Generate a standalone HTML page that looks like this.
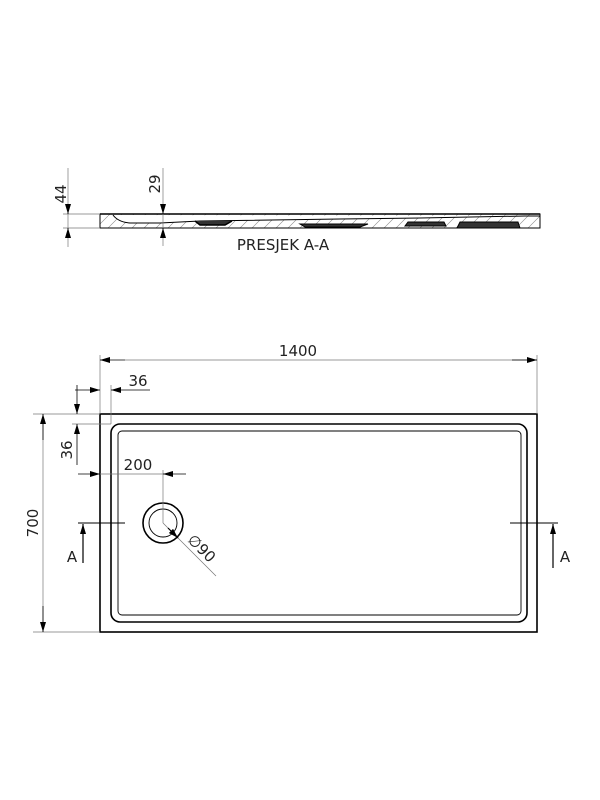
<!DOCTYPE html>
<html><head><meta charset="utf-8"><style>html,body{margin:0;padding:0;background:#fff}svg{display:block}</style></head>
<body>
<svg width="600" height="800" viewBox="0 0 600 800" xmlns="http://www.w3.org/2000/svg" font-family="'DejaVu Sans','Liberation Sans',sans-serif" fill="none">
<defs>
<marker id="ar" viewBox="0 0 10 6" refX="10" refY="3" markerWidth="10" markerHeight="6" orient="auto-start-reverse" markerUnits="userSpaceOnUse"><path d="M0,0 L10,3 L0,6 Z" fill="#000"/></marker>
<pattern id="h" width="12" height="12" patternUnits="userSpaceOnUse"><path d="M0,12 L12,0" stroke="#888" stroke-width="0.6"/></pattern>
</defs>
<g stroke="#000">
<rect x="100" y="214" width="440" height="14" fill="url(#h)" stroke-width="1"/>
<path d="M100,214 L540,214" stroke-width="1.6"/>
<path d="M113,215 Q118,222 130,223 L160,223 L200,221 L340,219 L420,218 L525,216 L540,216" stroke-width="1" fill="#fff"/>
<path d="M195,221 L200,225 L225,225 L232,221" stroke-width="1.5" fill="#333"/>
<path d="M305,227 L360,227 L368,224 L300,224 Z" stroke-width="1" fill="#333"/>
<path d="M405,226 L446,226 L444,222 L408,222 Z" stroke-width="1" fill="#333"/>
<path d="M457,228 L520,228 L518,222 L460,222 Z" stroke-width="1" fill="#333"/>
</g>
<g stroke="#777" stroke-width="0.7">
<path d="M63,214 L100,214 M63,228 L100,228"/>
<path d="M68,168 L68,247"/>
<path d="M163,168 L163,246"/>
</g>
<g stroke="#000" stroke-width="0.8">
<path d="M68,204 L68,214" marker-end="url(#ar)"/>
<path d="M68,238 L68,228" marker-end="url(#ar)"/>
<path d="M163,204 L163,214" marker-end="url(#ar)"/>
<path d="M163,238 L163,228" marker-end="url(#ar)"/>
</g>
<g fill="#222" font-size="15">
<text transform="translate(66,194) rotate(-90)" text-anchor="middle">44</text>
<text transform="translate(160,184) rotate(-90)" text-anchor="middle">29</text>
<text x="283" y="250" text-anchor="middle">PRESJEK A-A</text>
</g>
<g stroke="#000">
<rect x="100" y="414" width="437" height="218" stroke-width="1.6"/>
<rect x="111" y="424" width="416" height="198" rx="9" stroke-width="1.6"/>
<rect x="118" y="431" width="403" height="184" rx="4" stroke-width="0.9"/>
<circle cx="163" cy="523" r="20" stroke-width="1.6"/>
<circle cx="163" cy="523" r="14" stroke-width="0.9"/>
<path d="M78,523 L125,523 M510,523 L558,523" stroke-width="1"/>
</g>
<g stroke="#777" stroke-width="0.7">
<path d="M100,355 L100,414 M537,355 L537,414"/>
<path d="M111,385 L111,424"/>
<path d="M72,424 L111,424"/>
<path d="M33,414 L100,414 M33,632 L100,632"/>
<path d="M163,470 L163,523"/>
<path d="M163,523 L216,576"/>
<path d="M43,414 L43,632"/>
</g>
<g stroke="#000" stroke-width="0.8">
<path d="M125,360 L100,360" marker-end="url(#ar)"/>
<path d="M125,360 L537,360" stroke="#777" stroke-width="0.7"/>
<path d="M512,360 L537,360" marker-end="url(#ar)"/>
<path d="M75,390 L100,390" marker-end="url(#ar)"/>
<path d="M150,390 L111,390" marker-end="url(#ar)"/>
<path d="M77,385 L77,414" marker-end="url(#ar)"/>
<path d="M77,465 L77,424" marker-end="url(#ar)"/>
<path d="M78,474 L100,474" marker-end="url(#ar)"/>
<path d="M186,474 L163,474" marker-end="url(#ar)"/>
<path d="M100,474 L163,474" stroke="#777" stroke-width="0.7"/>
<path d="M43,440 L43,414" marker-end="url(#ar)"/>
<path d="M43,606 L43,632" marker-end="url(#ar)"/>
<path d="M168,528 L178,538" marker-end="url(#ar)" stroke-width="1.2"/>
<path d="M83,563 L83,524" marker-end="url(#ar)" stroke-width="1.2"/>
<path d="M553,568 L553,524" marker-end="url(#ar)" stroke-width="1.2"/>
</g>
<g fill="#222" font-size="15">
<text x="298" y="356" text-anchor="middle">1400</text>
<text x="138" y="386" text-anchor="middle">36</text>
<text transform="translate(72,450) rotate(-90)" text-anchor="middle">36</text>
<text x="138" y="470" text-anchor="middle">200</text>
<text transform="translate(38,523) rotate(-90)" text-anchor="middle">700</text>
<text transform="translate(198,552) rotate(45)" text-anchor="middle">∅90</text>
<text x="72" y="562" text-anchor="middle">A</text>
<text x="565" y="562" text-anchor="middle">A</text>
</g>
</svg>
</body></html>
